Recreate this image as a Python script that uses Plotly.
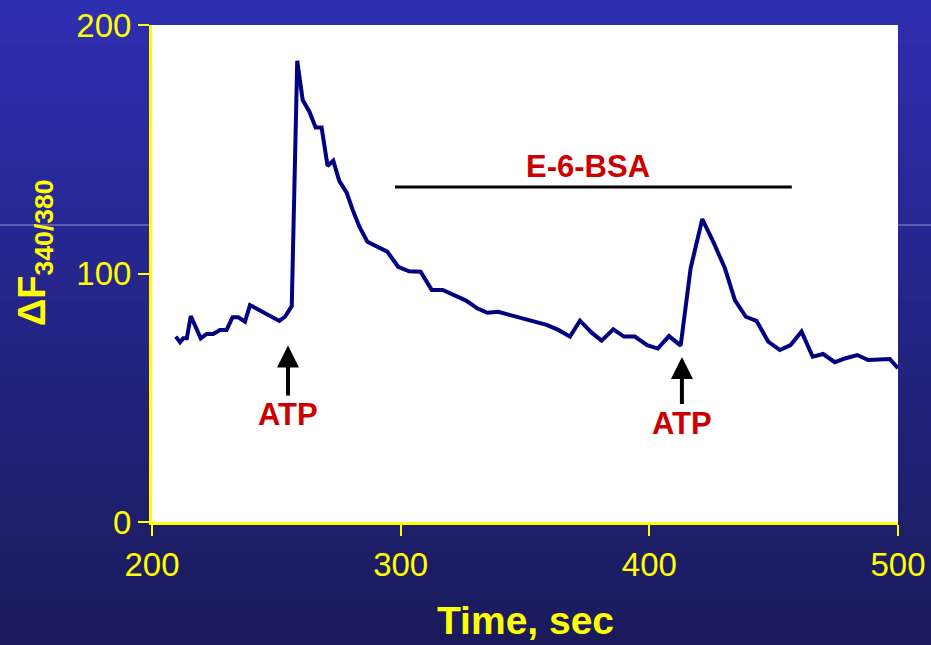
import plotly.graph_objects as go

# ---- data ----
time_sec = [209.6, 211.3, 212.6, 214.0, 215.6, 217.6, 219.6, 222.0, 224.6, 227.3,
            230.0, 232.4, 234.7, 237.4, 239.4, 251.2, 253.5, 256.2, 258.4, 260.6,
            263.3, 265.8, 268.2, 270.6, 272.9, 275.3, 278.3, 280.7, 283.4, 286.6,
            290.4, 294.6, 299.0, 303.4, 308.0, 312.5, 316.9, 321.2, 326.3, 330.8,
            334.8, 339.2, 344.0, 353.3, 358.7, 363.4, 368.1, 372.1, 376.8, 380.8,
            385.5, 389.8, 394.2, 399.1, 403.4, 407.9, 412.6, 416.6, 421.3, 426.0,
            430.4, 434.4, 438.8, 443.1, 447.8, 452.5, 456.8, 461.2, 465.7, 469.9,
            474.6, 479.0, 483.6, 488.0, 496.7, 500.0]
delta_f = [74.6, 72.3, 73.9, 73.9, 82.9, 77.9, 73.9, 75.7, 75.7, 77.3,
           77.3, 82.4, 82.4, 80.6, 87.3, 80.9, 82.6, 86.9, 185.6, 169.8,
           165.1, 158.8, 158.8, 143.3, 145.4, 137.3, 132.5, 125.6, 118.8, 112.8,
           110.8, 108.8, 102.7, 100.9, 100.7, 93.4, 93.4, 91.3, 89.1, 86.0,
           84.2, 84.6, 83.3, 80.6, 79.3, 77.3, 74.6, 81.0, 76.2, 73.0,
           77.5, 74.6, 74.6, 71.2, 69.8, 74.8, 71.0, 102.1, 121.9, 112.1,
           102.1, 89.3, 82.6, 80.9, 72.6, 69.2, 71.2, 76.6, 66.5, 67.6,
           64.3, 65.9, 67.2, 65.2, 65.6, 61.9]

atp_label = "ATP"
atp_arrow_time = [254.7, 413.1]
atp_arrow_tip = [71.0, 66.4]

bsa_time = [297.7, 457.3]
bsa_level = [134.8, 134.8]
bsa_label = "E-6-BSA"
bsa_label_pos = [375.3, 143.0]

x_ticks = [200, 300, 400, 500]
y_ticks = [0, 100, 200]
x_title = "Time, sec"
y_title = "ΔF<sub>340/380</sub>"

YELLOW = "#ffff00"
RED = "#cc0000"
FONT = "Arial, Liberation Sans, sans-serif"

W, H = 931, 645
ML, MR, MT, MB = 152, 33, 25, 123
PW, PH = W - ML - MR, H - MT - MB

fig = go.Figure()

fig.add_trace(go.Scatter(x=time_sec, y=delta_f, mode="lines",
                         line=dict(color="#000080", width=4),
                         hoverinfo="skip", showlegend=False))

fig.add_trace(go.Scatter(x=bsa_time, y=bsa_level, mode="lines",
                         line=dict(color="#000000", width=3),
                         hoverinfo="skip", showlegend=False))

# ---- background gradient (paper shapes) ----
shapes = []
top = (46, 46, 178)
bot = (26, 26, 90)
n = 60
for i in range(n):
    f = (i + 0.5) / n
    c = tuple(int(round(top[k] + (bot[k] - top[k]) * f)) for k in range(3))
    py0 = i * H / n - (1 if i == 0 else 0) * 10
    py1 = (i + 1) * H / n + 1 + (10 if i == n - 1 else 0)
    y0 = (H - MB - py1) / PH
    y1 = (H - MB - py0) / PH
    shapes.append(dict(type="rect", xref="paper", yref="paper",
                       x0=-0.3, x1=1.2, y0=y0, y1=y1,
                       fillcolor="rgb(%d,%d,%d)" % c, line=dict(width=0),
                       layer="below"))
# faint horizontal slide line
ly = (H - MB - 225) / PH
shapes.append(dict(type="line", xref="paper", yref="paper", x0=-0.3, x1=1.2,
                   y0=ly, y1=ly, line=dict(color="rgba(170,170,225,0.8)", width=1),
                   layer="below"))
# white plot area
shapes.append(dict(type="rect", xref="paper", yref="paper", x0=0, x1=1, y0=0, y1=1,
                   fillcolor="white", line=dict(width=0), layer="below"))

annotations = []
for t, tip, ay in zip(atp_arrow_time, atp_arrow_tip, [69, 66]):
    annotations.append(dict(x=t, y=tip, xref="x", yref="y", text="<b>%s</b>" % atp_label,
                            font=dict(family=FONT, size=31, color=RED),
                            showarrow=True, arrowhead=2, arrowwidth=4, arrowsize=1.1,
                            arrowcolor="black", ax=0, ay=ay, standoff=0, startstandoff=0))
annotations.append(dict(x=bsa_label_pos[0], y=bsa_label_pos[1], xref="x", yref="y",
                        text="<b>%s</b>" % bsa_label, showarrow=False,
                        font=dict(family=FONT, size=31, color=RED)))
annotations.append(dict(x=(35 - ML) / PW, y=(H - MB - 253) / PH, xref="paper", yref="paper",
                        xanchor="center", yanchor="middle",
                        text="<b>%s</b>" % y_title, textangle=-90, showarrow=False,
                        font=dict(family=FONT, size=38, color=YELLOW)))
annotations.append(dict(x=0.5, y=(H - MB - 620) / PH, xref="paper", yref="paper",
                        xanchor="center", yanchor="middle",
                        text="<b>%s</b>" % x_title, showarrow=False,
                        font=dict(family=FONT, size=39, color=YELLOW)))

axis_common = dict(showgrid=False, zeroline=False, showline=True, linecolor=YELLOW,
                   linewidth=3, ticks="outside", ticklen=11, tickwidth=2,
                   automargin=False,
                   tickcolor=YELLOW, tickfont=dict(family=FONT, size=33, color=YELLOW))

fig.update_layout(
    width=W, height=H,
    margin=dict(l=ML, r=MR, t=MT, b=MB, pad=0, autoexpand=False),
    paper_bgcolor="rgb(36,36,134)",
    plot_bgcolor="white",
    shapes=shapes,
    annotations=annotations,
    xaxis=dict(range=[200, 500], tickvals=x_ticks, **axis_common),
    yaxis=dict(range=[0, 200], tickvals=y_ticks, **axis_common),
    showlegend=False,
)

fig.write_html("out.html",
               config={"displayModeBar": False},
               post_script="document.body.style.margin='0';"
                           "document.body.style.overflow='hidden';")
